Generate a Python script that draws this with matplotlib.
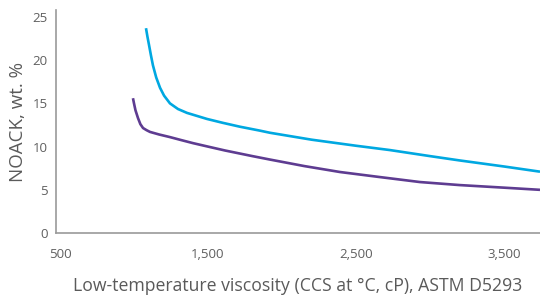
import matplotlib
matplotlib.use("Agg")
import matplotlib.pyplot as plt

blue_x = [1081, 1091, 1101, 1114, 1128, 1150, 1176, 1203, 1243, 1297, 1358, 1493, 1600, 1716, 1850, 1919, 2200, 2500, 2729, 3000, 3200, 3500, 3743]
blue_y = [23.7, 22.7, 21.8, 20.6, 19.4, 18.0, 16.8, 15.9, 15.0, 14.35, 13.9, 13.2, 12.75, 12.3, 11.85, 11.6, 10.8, 10.1, 9.6, 8.9, 8.4, 7.7, 7.1]
purple_x = [993, 1000, 1010, 1027, 1043, 1061, 1085, 1108, 1170, 1243, 1320, 1399, 1500, 1615, 1800, 1919, 2150, 2392, 2650, 2932, 3200, 3500, 3743]
purple_y = [15.6, 15.0, 14.2, 13.3, 12.6, 12.15, 11.9, 11.7, 11.4, 11.1, 10.75, 10.4, 10.0, 9.55, 8.9, 8.5, 7.75, 7.06, 6.5, 5.9, 5.55, 5.25, 5.0]

xticks = [500, 1500, 2500, 3500]
xtick_labels = ["500", "1,500", "2,500", "3,500"]
yticks = [0, 5, 10, 15, 20, 25]

plt.rcParams['font.family'] = ['Open Sans', 'DejaVu Sans']

fig = plt.figure(figsize=(5.4, 2.95), dpi=100)
ax = fig.add_axes([0.1037, 0.21, 0.8963, 0.756])

ax.plot(blue_x, blue_y, color="#00A8E1", lw=1.9, solid_capstyle="butt", solid_joinstyle="round")
ax.plot(purple_x, purple_y, color="#5E3C91", lw=1.9, solid_capstyle="butt", solid_joinstyle="round")

ax.set_xlim(473, 3743)
ax.set_ylim(0, 25.8)
ax.set_xticks(xticks)
ax.set_xticklabels(xtick_labels)
ax.set_yticks(yticks)

for s in ["top", "right"]:
    ax.spines[s].set_visible(False)
for s in ["left", "bottom"]:
    ax.spines[s].set_color("#9a9a9a")
    ax.spines[s].set_linewidth(1.2)

ax.tick_params(axis="both", length=0, labelsize=9.5, labelcolor="#5f5f5f")
ax.tick_params(axis="x", pad=10.5)
ax.tick_params(axis="y", pad=6)

ax.set_xlabel("Low-temperature viscosity (CCS at °C, cP), ASTM D5293", fontsize=12.7, color="#5a5a5a", labelpad=12)
ax.set_ylabel("NOACK, wt. %", fontsize=13.5, color="#5a5a5a", labelpad=4)

fig.savefig("out.png", dpi=100)
